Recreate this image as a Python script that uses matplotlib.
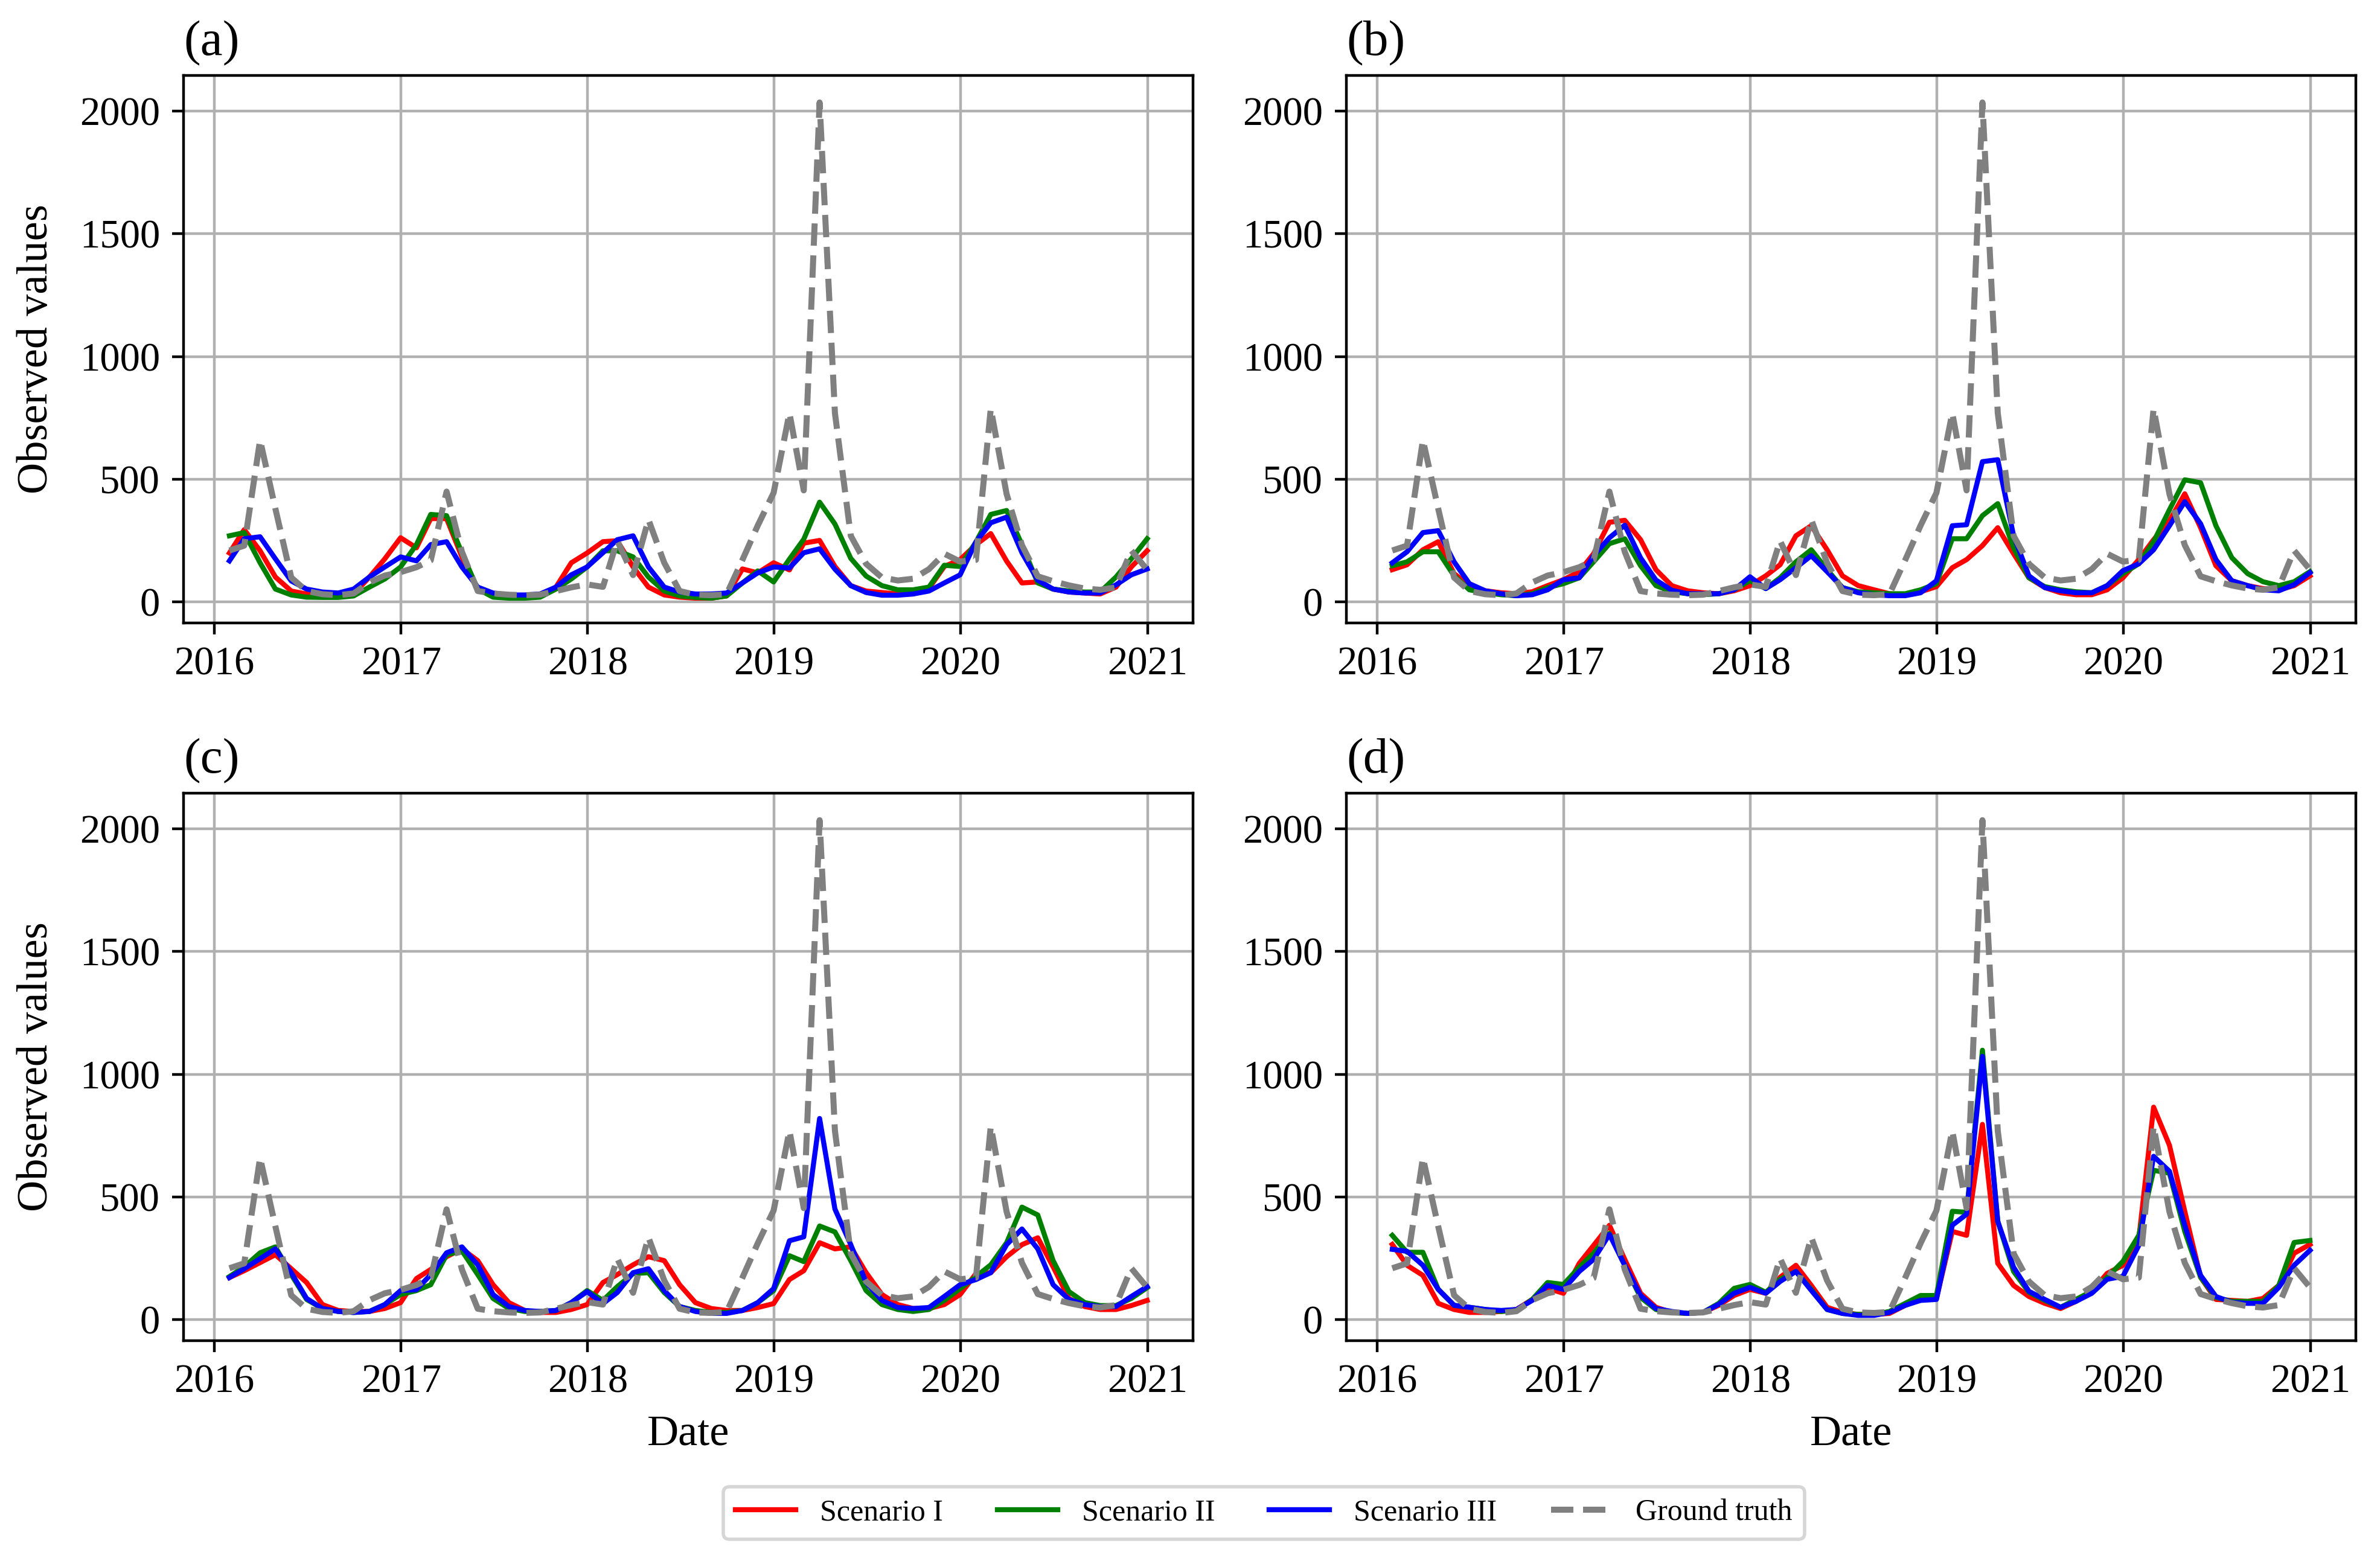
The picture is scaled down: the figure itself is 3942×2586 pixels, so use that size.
import matplotlib
matplotlib.use("Agg")
import matplotlib.pyplot as plt
import matplotlib.dates as mdates
import pandas as pd

plt.rcParams['font.family'] = ['Liberation Serif', 'DejaVu Serif']
plt.rcParams['font.size'] = 12

dates = pd.date_range('2016-01-31', periods=60, freq='ME')

ground_truth = [210, 230, 660, 380, 100, 45, 32, 28, 35, 80, 108, 122, 142, 170, 450, 205,
                45, 35, 30, 28, 30, 45, 60, 72, 62, 250, 110, 336, 160, 45, 30, 28, 32, 172,
                312, 445, 770, 455, 2035, 770, 270, 156, 100, 88, 95, 134, 197, 165, 172, 788,
                440, 232, 105, 85, 68, 55, 50, 60, 210, 132]

# Panel (a)
a_s1 = [200, 295, 209, 102, 45, 33, 29, 29, 33, 102, 176, 262, 221, 340, 340, 184, 53, 25, 20, 20,
        25, 61, 160, 200, 246, 250, 143, 61, 29, 20, 16, 16, 25, 135, 119, 160, 131, 240, 251, 145,
        67, 45, 39, 33, 33, 56, 145, 173, 234, 279, 167, 78, 82, 53, 41, 37, 33, 61, 143, 209]
a_s2 = [270, 283, 160, 53, 29, 20, 19, 19, 25, 61, 94, 143, 234, 357, 352, 200, 53, 20, 16, 16,
        20, 53, 94, 143, 209, 209, 184, 102, 45, 25, 19, 16, 25, 78, 127, 82, 175, 256, 407, 318,
        178, 106, 67, 50, 50, 61, 150, 145, 245, 357, 373, 234, 78, 53, 45, 41, 41, 102, 176, 258]
a_s3 = [168, 258, 266, 176, 86, 53, 41, 37, 53, 102, 143, 184, 168, 234, 246, 143, 61, 37, 29, 29,
        33, 61, 111, 143, 201, 254, 270, 143, 61, 41, 33, 33, 37, 78, 119, 143, 139, 201, 217, 134,
        67, 39, 28, 28, 33, 45, 78, 111, 245, 323, 346, 201, 89, 53, 41, 37, 37, 70, 111, 135]

# Panel (b)
b_s1 = [132, 152, 213, 246, 116, 67, 46, 38, 34, 42, 67, 91, 124, 197, 325, 333, 254, 132, 67, 46,
        38, 34, 46, 67, 107, 152, 270, 311, 213, 107, 67, 50, 34, 30, 42, 63, 140, 173, 230, 303,
        197, 99, 59, 38, 30, 30, 50, 99, 173, 254, 331, 441, 303, 148, 87, 67, 55, 50, 67, 107]
b_s2 = [148, 164, 205, 205, 107, 50, 38, 30, 26, 34, 59, 75, 99, 164, 238, 258, 148, 67, 42, 34,
        30, 34, 50, 87, 55, 99, 164, 213, 132, 59, 42, 38, 34, 34, 50, 75, 258, 258, 352, 401,
        221, 99, 63, 50, 42, 38, 67, 116, 156, 246, 376, 498, 486, 311, 181, 116, 83, 67, 83, 124]
b_s3 = [160, 205, 283, 291, 164, 75, 46, 34, 26, 30, 50, 91, 99, 189, 262, 313, 180, 90, 48, 34,
        34, 34, 50, 103, 55, 91, 140, 189, 124, 59, 38, 30, 26, 26, 38, 87, 311, 315, 572, 580,
        270, 107, 59, 46, 38, 38, 67, 128, 156, 213, 311, 409, 319, 173, 87, 67, 50, 46, 71, 120]

# Panel (c)
c_s1 = [172, 200, 233, 265, 208, 152, 62, 38, 34, 34, 46, 70, 168, 205, 257, 289, 241, 143, 70, 38,
        30, 30, 42, 62, 152, 184, 224, 257, 241, 143, 70, 46, 38, 38, 50, 66, 164, 200, 314, 289,
        297, 192, 103, 62, 46, 46, 62, 103, 188, 192, 257, 306, 334, 216, 87, 54, 42, 42, 58, 79]
c_s2 = [176, 216, 273, 297, 184, 83, 46, 34, 30, 34, 62, 103, 119, 143, 265, 281, 184, 87, 46, 34,
        34, 38, 70, 119, 79, 135, 188, 192, 111, 54, 38, 30, 30, 38, 70, 119, 261, 237, 382, 358,
        241, 119, 62, 42, 34, 42, 79, 127, 176, 224, 314, 459, 427, 241, 115, 70, 58, 58, 87, 131]
c_s3 = [172, 208, 249, 289, 192, 87, 46, 34, 30, 34, 62, 119, 123, 184, 273, 297, 224, 103, 54, 38,
        34, 38, 70, 115, 66, 111, 192, 208, 119, 54, 34, 26, 26, 38, 70, 127, 322, 338, 820, 451,
        306, 152, 79, 50, 46, 50, 95, 143, 164, 192, 306, 370, 289, 143, 83, 62, 54, 54, 95, 135]

# Panel (d)
d_s1 = [307, 222, 181, 67, 42, 30, 30, 34, 42, 83, 128, 108, 230, 303, 385, 246, 108, 51, 30, 26,
        30, 59, 99, 124, 108, 173, 222, 140, 51, 30, 22, 22, 26, 59, 83, 87, 360, 344, 796, 230,
        140, 95, 67, 46, 75, 116, 189, 222, 328, 866, 711, 442, 173, 83, 79, 75, 87, 140, 271, 307]
d_s2 = [344, 275, 275, 124, 59, 51, 42, 34, 38, 83, 152, 144, 214, 271, 352, 222, 91, 42, 30, 26,
        30, 67, 128, 144, 112, 165, 197, 124, 42, 26, 22, 22, 34, 67, 99, 99, 442, 438, 1098, 401,
        197, 112, 79, 51, 83, 116, 173, 238, 344, 609, 597, 360, 173, 91, 75, 75, 75, 140, 315, 323]
d_s3 = [287, 279, 222, 124, 59, 51, 42, 38, 42, 79, 140, 124, 197, 246, 348, 222, 99, 46, 34, 26,
        30, 63, 108, 132, 108, 156, 197, 120, 42, 26, 18, 18, 30, 59, 79, 83, 385, 430, 1073, 401,
        214, 116, 83, 51, 75, 108, 165, 177, 303, 666, 605, 385, 181, 95, 71, 67, 67, 132, 222, 283]

panel_labels = ['(a)', '(b)', '(c)', '(d)']
series_names = ['Scenario I', 'Scenario II', 'Scenario III', 'Ground truth']
series_colors = ['red', 'green', 'blue', 'gray']
panels = [(a_s1, a_s2, a_s3), (b_s1, b_s2, b_s3), (c_s1, c_s2, c_s3), (d_s1, d_s2, d_s3)]

W, H = 3942, 2586
fig = plt.figure(figsize=(W / 400, H / 400), dpi=400)

lefts = [304 / W, 2230 / W]
width = 1672 / W
bottoms = [1 - 1032 / H, 1 - 2221 / H]
height = 907 / H

axes = []
for r in range(2):
    for c in range(2):
        ax = fig.add_axes([lefts[c], bottoms[r], width, height])
        axes.append(ax)

for k, ax in enumerate(axes):
    s1, s2, s3 = panels[k]
    ax.plot(dates, s1, color=series_colors[0], lw=1.5, label=series_names[0])
    ax.plot(dates, s2, color=series_colors[1], lw=1.5, label=series_names[1])
    ax.plot(dates, s3, color=series_colors[2], lw=1.5, label=series_names[2])
    ax.plot(dates, ground_truth, color=series_colors[3], lw=1.8, ls='--', label=series_names[3])
    ax.set_ylim(-85, 2145)
    ax.set_yticks([0, 500, 1000, 1500, 2000])
    ax.xaxis.set_major_locator(mdates.YearLocator())
    ax.xaxis.set_major_formatter(mdates.DateFormatter('%Y'))
    ax.grid(True)
    ax.set_title(panel_labels[k], loc='left', fontsize=15, pad=6)
    ax.tick_params(labelsize=12)
    if k in (0, 2):
        ax.set_ylabel('Observed values', fontsize=13, labelpad=7)
    if k in (2, 3):
        ax.set_xlabel('Date', fontsize=13)

handles, labels = axes[0].get_legend_handles_labels()
fig.legend(handles, labels, loc='lower center', ncol=4, fontsize=9,
           bbox_to_anchor=(0.531, 0.014), bbox_transform=fig.transFigure,
           borderaxespad=0, columnspacing=1.8)

fig.savefig('out.png', dpi=400)
